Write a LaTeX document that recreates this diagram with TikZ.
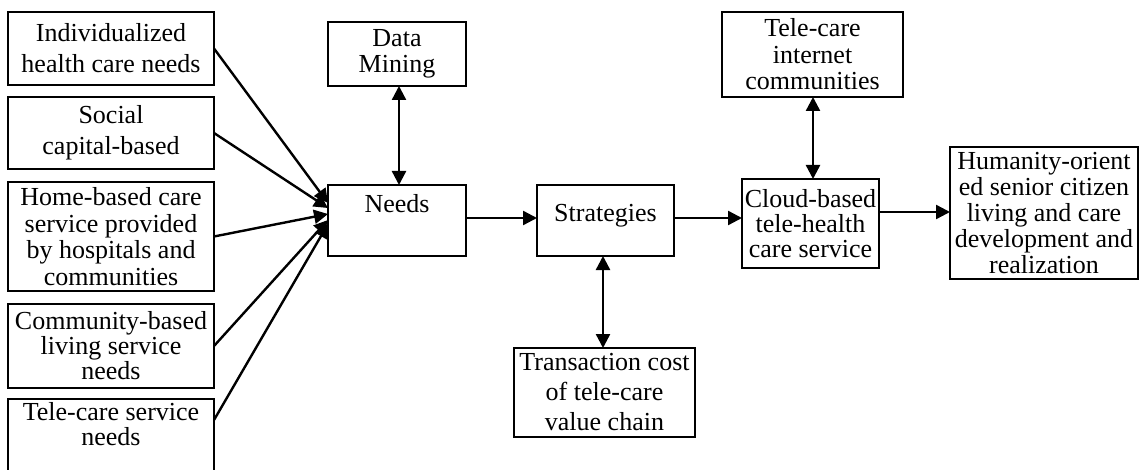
\documentclass[tikz,border=0pt]{standalone}
\usepackage{fontspec}
\setmainfont{Liberation Serif}
\usetikzlibrary{arrows.meta,calc}
% box content: width, height, vertical position, baselineskip, text
\newcommand\cell[5]{\parbox[c][#2pt][#3]{#1pt}{\centering\fontsize{26}{#4}\selectfont #5}}
\tikzset{
  box/.style={draw, line width=1.4pt, inner sep=0pt, outer sep=0pt},
  arr/.style={line width=2.4pt, -{Triangle[length=14pt,width=14pt]}},
  darr/.style={line width=2.4pt, {Triangle[length=14pt,width=14pt]}-{Triangle[length=14pt,width=14pt]}}
}
\begin{document}
\begin{tikzpicture}[x=1pt,y=-1pt]
\useasboundingbox (0,0) rectangle (1139,470);
\clip (0,0) rectangle (1139,470);

% input boxes on the left
\node[box] (b1) at (111,48.5) {\cell{206}{73}{c}{31}{Individualized\\health care needs}};
\node[box] (b2) at (111,133) {\cell{206}{72}{c}{31}{Social\\capital-based}};
\node[box] (b3) at (111,236.5) {\cell{206}{109}{c}{26.5}{Home-based care\\service provided\\by hospitals and\\communities}};
\node[box] (b4) at (111,346) {\cell{206}{84}{c}{25}{Community-based\\living service\\needs}};
\node[box] (b5) at (111,439.5) {\cell{206}{81}{t}{25.5}{\vspace*{3pt}Tele-care service\\needs}};

% main chain
\node[box] (dm) at (397,54) {\cell{138}{64}{c}{26}{Data\\Mining}};
\node[box] (needs) at (397,220.5) {\cell{138}{71}{t}{26}{\vspace*{9pt}Needs}};
\node[box] (strat) at (605.5,220.5) {\cell{137}{71}{c}{26}{\vspace*{-10pt}Strategies}};
\node[box] (trans) at (604.5,392.5) {\cell{181}{89}{c}{30}{Transaction cost\\of tele-care\\value chain}};
\node[box] (tele) at (812.5,54.5) {\cell{181}{85}{c}{26.5}{Tele-care\\internet\\communities}};
\node[box] (cloud) at (810.5,223.5) {\cell{137}{89}{c}{25}{Cloud-based\\tele-health\\care service}};
\node[box] (hum) at (1044,213) {\cell{188}{132}{c}{26}{Humanity-orient\\ed senior citizen\\living and care\\development and\\realization}};

% converging inputs
\draw[arr] (b1.east) -- ($(needs.north west)+(0,18)$);
\draw[arr] (b2.east) -- ($(needs.north west)+(0,23)$);
\draw[arr] (b3.east) -- ($(needs.north west)+(0,29)$);
\draw[arr] (b4.east) -- ($(needs.north west)+(0,35)$);
\coordinate (b5out) at ($(b5.north east)+(0,21)$);
\draw[arr] (b5out) -- ($(needs.north west)+(0,39)$);

% links
\draw[darr] (dm.south -| 399,0) -- (needs.north -| 399,0);
\coordinate (sn) at ($(needs.north east)+(0,33)$);
\draw[arr] (sn) -- (sn -| strat.west);
\draw[darr] (strat.south -| 603,0) -- (trans.north -| 603,0);
\coordinate (sc) at ($(strat.north east)+(0,33)$);
\draw[arr] (sc) -- (sc -| cloud.west);
\draw[darr] (tele.south -| 813,0) -- (cloud.north -| 813,0);
\coordinate (ch) at ($(cloud.north east)+(0,33)$);
\draw[arr] (ch) -- (ch -| hum.west);
\end{tikzpicture}
\end{document}
